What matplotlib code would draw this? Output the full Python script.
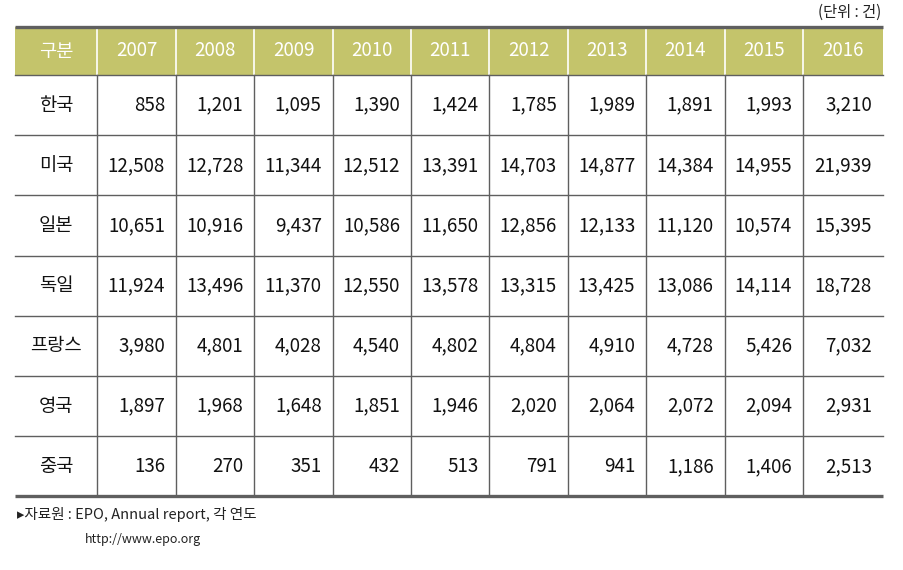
import matplotlib.pyplot as plt
from matplotlib.patches import Rectangle

plt.rcParams['font.family'] = ['Noto Sans CJK KR', 'DejaVu Sans']

# 연도별 특허 출원 (단위: 건)
years = ['2007', '2008', '2009', '2010', '2011', '2012', '2013', '2014', '2015', '2016']
countries = ['한국', '미국', '일본', '독일', '프랑스', '영국', '중국']
korea = [858, 1201, 1095, 1390, 1424, 1785, 1989, 1891, 1993, 3210]
usa = [12508, 12728, 11344, 12512, 13391, 14703, 14877, 14384, 14955, 21939]
japan = [10651, 10916, 9437, 10586, 11650, 12856, 12133, 11120, 10574, 15395]
germany = [11924, 13496, 11370, 12550, 13578, 13315, 13425, 13086, 14114, 18728]
france = [3980, 4801, 4028, 4540, 4802, 4804, 4910, 4728, 5426, 7032]
uk = [1897, 1968, 1648, 1851, 1946, 2020, 2064, 2072, 2094, 2931]
china = [136, 270, 351, 432, 513, 791, 941, 1186, 1406, 2513]
rows = [korea, usa, japan, germany, france, uk, china]

fig = plt.figure(figsize=(9.04, 5.70), dpi=100)
ax = fig.add_axes([0, 0, 1, 1])
ax.set_xlim(0, 904)
ax.set_ylim(570, 0)
ax.axis('off')

# 표 레이아웃 (픽셀 단위)
left, right = 15, 883
first_w = 82.5
col_w = 78.4
top, head_h, row_h = 27, 48, 60.2
line_c = '#5f5f5f'
head_c = '#c4c46b'

col_edges = [left, left + first_w] + [left + first_w + col_w * (i + 1) for i in range(len(years) - 1)] + [right]

# 헤더
ax.add_patch(Rectangle((left, top), right - left, head_h, color=head_c, lw=0))
ax.text((col_edges[0] + col_edges[1]) / 2, top + head_h / 2, '구분', color='white',
        fontsize=13.5, ha='center', va='center')
for i, y in enumerate(years):
    ax.text((col_edges[i + 1] + col_edges[i + 2]) / 2, top + head_h / 2, y, color='white',
            fontsize=13.5, ha='center', va='center')
for x in col_edges[1:-1]:
    ax.plot([x, x], [top, top + head_h], color='white', lw=1.2)

# 본문
body_top = top + head_h
body_bot = body_top + row_h * len(countries)
for r, (name, vals) in enumerate(zip(countries, rows)):
    yc = body_top + row_h * (r + 0.5)
    ax.text((col_edges[0] + col_edges[1]) / 2, yc, name, fontsize=13.5, ha='center', va='center',
            color='#111111')
    for i, v in enumerate(vals):
        ax.text(col_edges[i + 2] - 11, yc, f'{v:,}', fontsize=13.5, ha='right', va='center',
                color='#111111')
    if r > 0:
        ax.plot([left, right], [body_top + row_h * r] * 2, color=line_c, lw=1.0)
for x in col_edges[1:-1]:
    ax.plot([x, x], [body_top, body_bot], color=line_c, lw=1.0)
ax.plot([left, right], [body_top, body_top], color=line_c, lw=1.0)
ax.plot([left, right], [top, top], color=line_c, lw=2.4, solid_capstyle='butt')
ax.plot([left, right], [body_bot, body_bot], color=line_c, lw=2.4, solid_capstyle='butt')

# 단위 및 출처
ax.text(881, 12, '(단위 : 건)', fontsize=11, ha='right', va='center', color='#222222')
ax.text(17, 515, '▸자료원 : EPO, Annual report, 각 연도', fontsize=10.5, ha='left', va='center',
        color='#222222')
ax.text(85, 539, 'http://www.epo.org', fontsize=9, ha='left', va='center', color='#222222')

fig.savefig('out.png', dpi=100)
